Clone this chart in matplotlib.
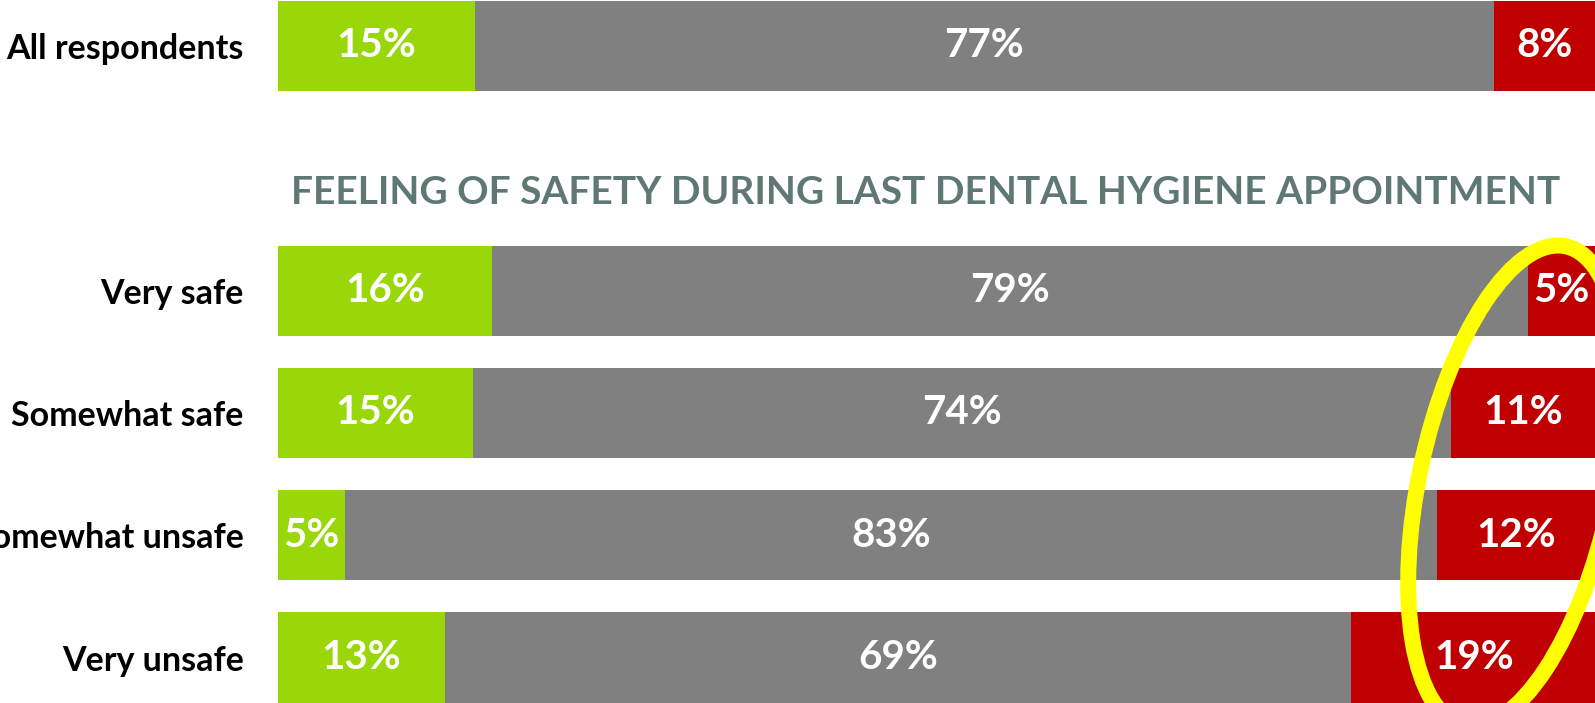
import matplotlib.pyplot as plt
from matplotlib.patches import Ellipse

# categories, top to bottom (None = gap row holding the section title)
categories = ['All respondents', None, 'Very safe', 'Somewhat safe',
              'Somewhat unsafe', 'Very unsafe']
positive = [15.0, None, 16.3, 14.8, 5.1, 12.7]
neutral = [77.3, None, 78.6, 74.3, 82.9, 68.8]
negative = [7.7, None, 5.1, 10.9, 12.0, 18.6]
section_title = 'FEELING OF SAFETY DURING LAST DENTAL HYGIENE APPOINTMENT'

colors = ['#99D708', '#808080', '#C00000']

plt.rcParams['font.family'] = ['Lato', 'DejaVu Sans']

fig = plt.figure(figsize=(15.95, 7.03), dpi=100)
ax = fig.add_axes([0.1741, 0, 0.8259, 1])

rows = [i for i, c in enumerate(categories) if c is not None]
for i in rows:
    left = 0
    for val, col in zip([positive[i], neutral[i], negative[i]], colors):
        ax.barh(i, val, left=left, height=0.736, color=col, edgecolor='none')
        ax.text(left + val / 2, i, f'{round(val)}%', ha='center', va='center',
                color='white', fontsize=29, fontweight='bold')
        left += val

ax.text(49.2, 1.2, section_title, ha='center', va='center',
        color='#607874', fontsize=28, fontweight='bold')

ax.set_xlim(0, 100)
ax.set_ylim(5.372, -0.376)
ax.set_yticks(rows)
ax.set_yticklabels([categories[i] for i in rows], fontsize=24.5,
                   fontweight='bold', color='black')
ax.tick_params(axis='y', length=0, pad=24.5)
ax.set_xticks([])
for s in ax.spines.values():
    s.set_visible(False)

# yellow highlight ring around the right-hand column (figure inches)
ring = Ellipse((15.15, 2.17), 1.92, 4.90, angle=-12, fill=False,
               edgecolor='#FFFF00', linewidth=11.5,
               transform=fig.dpi_scale_trans, clip_on=False)
fig.patches.append(ring)

plt.savefig('out.png', dpi=100)
